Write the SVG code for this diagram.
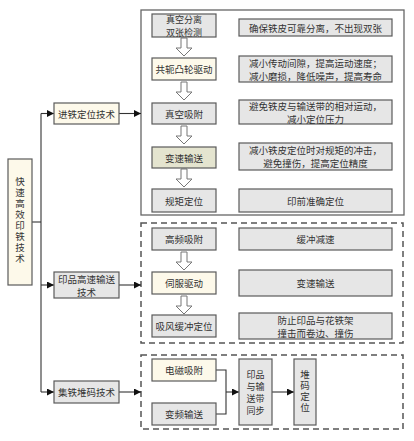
<svg xmlns="http://www.w3.org/2000/svg" width="414" height="441" viewBox="0 0 414 441">
<defs>
<style>
text{font-family:"Noto Sans CJK SC","Noto Sans CJK JP",sans-serif;font-size:9.5px;fill:#333;text-anchor:middle;dominant-baseline:central}
.vt{writing-mode:vertical-rl;letter-spacing:1.5px;font-size:9.5px}
.sm{font-size:9px}
.g{fill:#e6e6e6;stroke:#5a5a5a;stroke-width:1.2}
.c{fill:#fdf9ea;stroke:#5a5a5a;stroke-width:1.2}
.v{fill:#e4e4cf;stroke:#5a5a5a;stroke-width:1.2}
.ln{fill:none;stroke:#333;stroke-width:1.1}
.ba{fill:#fff;stroke:#777;stroke-width:1}
.frame{fill:none;stroke:#666;stroke-width:1.3}
.dash{fill:none;stroke:#555;stroke-width:1.5;stroke-dasharray:6 4}
</style>
<marker id="ah" viewBox="0 0 10 10" refX="10" refY="5" markerWidth="7" markerHeight="7" markerUnits="userSpaceOnUse" orient="auto">
<path d="M0,0 L10,5 L0,10 z" fill="#111"/>
</marker>
<path id="blk" d="M-3,0 H3 V10 H8 L0,18 L-8,10 H-3 Z"/>
</defs>
<rect width="414" height="441" fill="#fff"/>

<rect class="frame" x="141" y="10" width="263" height="205"/>
<rect class="dash" x="141" y="223" width="262" height="120"/>
<rect class="dash" x="141" y="355" width="262" height="74"/>

<g id="connectors">
<polyline class="ln" points="32,222 41,222"/>
<polyline class="ln" points="41,113.5 41,392"/>
<line class="ln" x1="41" y1="113.5" x2="54" y2="113.5" marker-end="url(#ah)"/>
<line class="ln" x1="41" y1="285" x2="54" y2="285" marker-end="url(#ah)"/>
<line class="ln" x1="41" y1="392" x2="54" y2="392" marker-end="url(#ah)"/>
<line class="ln" x1="119" y1="113.5" x2="141" y2="113.5" marker-end="url(#ah)"/>
<line class="ln" x1="119" y1="285" x2="141" y2="285" marker-end="url(#ah)"/>
<line class="ln" x1="119" y1="392" x2="141" y2="392" marker-end="url(#ah)"/>
<polyline class="ln" points="216,370 226,370 226,414 216,414"/>
<line class="ln" x1="226" y1="392" x2="239" y2="392" marker-end="url(#ah)"/>
<line class="ln" x1="272" y1="392" x2="294" y2="392" marker-end="url(#ah)"/>
<use href="#blk" class="ba" x="184" y="38"/>
<use href="#blk" class="ba" x="184" y="82"/>
<use href="#blk" class="ba" x="184" y="126"/>
<use href="#blk" class="ba" x="184" y="169"/>
<use href="#blk" class="ba" x="184" y="252"/>
<use href="#blk" class="ba" x="184" y="296"/>
</g>

<g id="main"><rect class="c" x="8" y="159" width="24" height="126"/>
<text class="vt" x="20" y="221">快速高效印铁技术</text></g>

<g id="m1"><rect class="c" x="54" y="103" width="65" height="21"/><text x="86.5" y="113.5">进铁定位技术</text></g>
<g id="m2"><rect class="g" x="54" y="272" width="65" height="26"/><text x="86.5" y="278.5">印品高速输送<tspan x="86.5" dy="13">技术</tspan></text></g>
<g id="m3"><rect class="g" x="54" y="381" width="65" height="22"/><text x="86.5" y="392">集铁堆码技术</text></g>

<g id="a1"><rect class="g" x="152" y="14" width="64" height="23"/><text class="sm" x="184" y="19.5">真空分离<tspan x="184" dy="12">双张检测</tspan></text></g>
<g id="a2"><rect class="c" x="152" y="58" width="64" height="22"/><text x="184" y="69">共轭凸轮驱动</text></g>
<g id="a3"><rect class="g" x="152" y="103" width="64" height="21"/><text x="184" y="113.5">真空吸附</text></g>
<g id="a4"><rect class="v" x="152" y="147" width="64" height="21"/><text x="184" y="157.5">变速输送</text></g>
<g id="a5"><rect class="g" x="152" y="189" width="64" height="23"/><text x="184" y="200.5">规矩定位</text></g>

<g id="r1"><rect class="g" x="239" y="19" width="153" height="17"/><text x="315.5" y="27.5">确保铁皮可靠分离，不出现双张</text></g>
<g id="r2"><rect class="g" x="239" y="56" width="153" height="26"/><text x="315.5" y="62.5">减小传动间隙，提高运动速度；<tspan x="315.5" dy="13">减小磨损，降低噪声，提高寿命</tspan></text></g>
<g id="r3"><rect class="g" x="239" y="100" width="153" height="24"/><text x="315.5" y="105.5">避免铁皮与输送带的相对运动，<tspan x="315.5" dy="13">减小定位压力</tspan></text></g>
<g id="r4"><rect class="g" x="239" y="143" width="153" height="27"/><text x="315.5" y="150">减小铁皮定位时对规矩的冲击，<tspan x="315.5" dy="13">避免撞伤，提高定位精度</tspan></text></g>
<g id="r5"><rect class="g" x="239" y="189" width="153" height="23"/><text x="315.5" y="200.5">印前准确定位</text></g>

<g id="b1"><rect class="g" x="152" y="228" width="64" height="22"/><text x="184" y="239">高频吸附</text></g>
<g id="b2"><rect class="c" x="152" y="272" width="64" height="22"/><text x="184" y="283">伺服驱动</text></g>
<g id="b3"><rect class="g" x="152" y="315" width="64" height="22"/><text x="184" y="326">吸风缓冲定位</text></g>
<g id="s1"><rect class="g" x="239" y="228" width="153" height="22"/><text x="315.5" y="239">缓冲减速</text></g>
<g id="s2"><rect class="g" x="239" y="270" width="153" height="26"/><text x="315.5" y="283">变速输送</text></g>
<g id="s3"><rect class="g" x="239" y="313" width="153" height="26"/><text x="315.5" y="319.5">防止印品与花铁架<tspan x="315.5" dy="13">撞击而卷边、撞伤</tspan></text></g>

<g id="c1"><rect class="c" x="152" y="359" width="64" height="22"/><text x="184" y="370">电磁吸附</text></g>
<g id="c2"><rect class="g" x="152" y="403" width="64" height="22"/><text x="184" y="414">变频输送</text></g>
<g id="c3"><rect class="g" x="239" y="359" width="33" height="66"/><text class="sm" x="255.5" y="374">印品<tspan x="255.5" dy="12">与输</tspan><tspan x="255.5" dy="12">送带</tspan><tspan x="255.5" dy="12">同步</tspan></text></g>
<g id="c4"><rect class="g" x="294" y="359" width="22" height="66"/><text class="vt" x="305" y="392">堆码定位</text></g>
</svg>
